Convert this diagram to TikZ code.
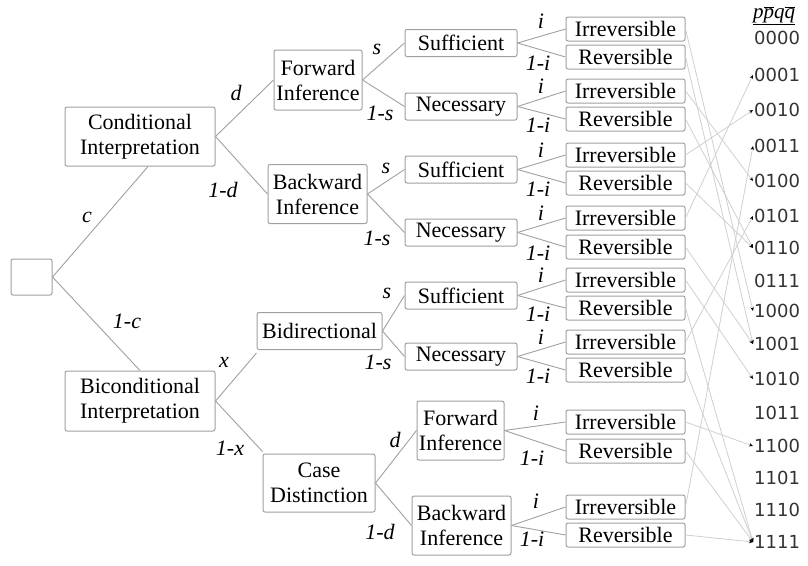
\documentclass[tikz,border=0pt]{standalone}
\usepackage{fontspec}
\setmainfont{Liberation Serif}
\newfontfamily\codefont{DejaVu Sans}
\usetikzlibrary{arrows.meta}
\definecolor{boxgray}{HTML}{A0A0A0}
\definecolor{linegray}{HTML}{A0A0A0}
\definecolor{arrgray}{HTML}{CFCFCF}
\newcommand\obar[1]{$\overline{\hbox{\itshape #1}}$}
\begin{document}
\begin{tikzpicture}[x=1pt,y=-1pt,
  box/.style={draw=boxgray,line width=1pt,rounded corners=2pt,inner sep=0pt,align=center,font=\fontsize{22}{25}\selectfont},
  leaf/.style={box,minimum width=119,minimum height=24},
  mid/.style={box,minimum width=112,minimum height=27},
  lab/.style={font=\fontsize{22}{25}\selectfont\itshape,inner sep=0pt},
  conn/.style={draw=linegray,line width=0.9pt},
  arr/.style={draw=arrgray,line width=0.8pt,-{Stealth[length=4pt,width=3.5pt,color=black]}},
  code/.style={font=\codefont\fontsize{18}{20}\selectfont,anchor=west,inner sep=1pt,text=black!80}]
\useasboundingbox (0,0) rectangle (808,565);

% tree boxes
\node[box,minimum width=41,minimum height=36] (root) at (31.5,277) {};
\node[box,minimum width=150,minimum height=59] (cond) at (140,136.5) {Conditional\\Interpretation};
\node[box,minimum width=150,minimum height=60] (bicond) at (140,401) {Biconditional\\Interpretation};
\node[box,minimum width=88,minimum height=60] (fi1) at (318,80) {Forward\\Inference};
\node[box,minimum width=99,minimum height=59] (bi1) at (317.5,194) {Backward\\Inference};
\node[box,minimum width=125,minimum height=37] (bidi) at (319.5,331) {Bidirectional};
\node[box,minimum width=112,minimum height=58] (cd) at (319,483) {Case\\Distinction};
\node[mid] (suf1) at (461,43) {Sufficient};
\node[mid] (nec1) at (461,106.5) {Necessary};
\node[mid] (suf2) at (461,169.5) {Sufficient};
\node[mid] (nec2) at (461,232.5) {Necessary};
\node[mid] (suf3) at (461,295.5) {Sufficient};
\node[mid] (nec3) at (461,356.5) {Necessary};
\node[box,minimum width=87,minimum height=59] (fi2) at (460.5,430.5) {Forward\\Inference};
\node[box,minimum width=99,minimum height=59] (bi2) at (461.5,525.5) {Backward\\Inference};

% leaves
\foreach \n/\y/\t in {1/29/Irreversible,2/57/Reversible,3/91/Irreversible,4/119/Reversible,
  5/155/Irreversible,6/183/Reversible,7/218/Irreversible,8/247/Reversible,
  9/280/Irreversible,10/308/Reversible,11/342/Irreversible,12/370/Reversible,
  13/422/Irreversible,14/451/Reversible,15/507/Irreversible,16/535/Reversible}
  \node[leaf] (L\n) at (625.5,\y) {\t};

% codes
\node[font=\fontsize{21}{24}\selectfont,inner sep=0pt] (head) at (774,16) {\underline{\itshape p\obar{p}q\obar{q}}};
\foreach \c/\y in {0000/38,0001/75,0010/110,0011/146,0100/181,0101/216,0110/248,0111/281,
  1000/311,1001/344,1010/379,1011/413,1100/446,1101/478,1110/510,1111/542}
  \node[code] (c\c) at (753,\y) {\c};

% connectors of the tree
\draw[conn] (root.east) -- ([xshift=8pt]cond.south);
\draw[conn] (root.east) -- (bicond.north);
\draw[conn] (cond.east) -- (fi1.west);
\draw[conn] (cond.east) -- (bi1.west);
\draw[conn] (bicond.east) -- ([yshift=-3pt]bidi.south west);
\draw[conn] (bicond.east) -- ([yshift=2pt]cd.north west);
\draw[conn] (fi1.east) -- (suf1.west);
\draw[conn] (fi1.east) -- (nec1.west);
\draw[conn] (bi1.east) -- (suf2.west);
\draw[conn] (bi1.east) -- (nec2.west);
\draw[conn] (bidi.east) -- (suf3.west);
\draw[conn] (bidi.east) -- (nec3.west);
\draw[conn] (cd.east) -- (fi2.west);
\draw[conn] (cd.east) -- (bi2.west);
\foreach \p/\a/\b in {suf1/1/2,nec1/3/4,suf2/5/6,nec2/7/8,suf3/9/10,nec3/11/12,fi2/13/14,bi2/15/16}{
  \draw[conn] (\p.east) -- (L\a.west);
  \draw[conn] (\p.east) -- (L\b.west);
}

% branch labels
\node[lab] (lc) at (87,217) {c};
\node[lab] (l1c) at (127,321) {1-c};
\node[lab] (ld) at (236,93) {d};
\node[lab] (l1d) at (223,190) {1-d};
\node[lab] (ls1) at (377,49) {s};
\node[lab] (l1s1) at (380,113) {1-s};
\node[lab] (ls2) at (386,168) {s};
\node[lab] (l1s2) at (377,238) {1-s};
\node[lab] (lx) at (224,362) {x};
\node[lab] (l1x) at (230,448) {1-x};
\node[lab] (ls3) at (387,293) {s};
\node[lab] (l1s3) at (378,362) {1-s};
\node[lab] (ld2) at (395,440) {d};
\node[lab] (l1d2) at (380,532) {1-d};
\foreach \k/\yi/\yj in {1/21/63,2/86/125,3/150/189,4/213/253,5/275/314,6/337/376}{
  \node[lab] (li\k) at (541,\yi) {i};
  \node[lab] (l1i\k) at (538,\yj) {1-i};
}
\node[lab] (li7) at (536,413) {i};
\node[lab] (l1i7) at (532,458) {1-i};
\node[lab] (li8) at (536,501) {i};
\node[lab] (l1i8) at (532,539) {1-i};

% leaves to codes
\foreach \l/\c in {1/1000,2/1001,3/0100,4/0110,5/0010,6/0110,7/0001,8/1001,
  9/1010,10/1111,11/0101,12/1111,13/1100,14/1111,15/0011,16/1111}
  \draw[arr] (L\l.east) -- (c\c.west);
\end{tikzpicture}
\end{document}
